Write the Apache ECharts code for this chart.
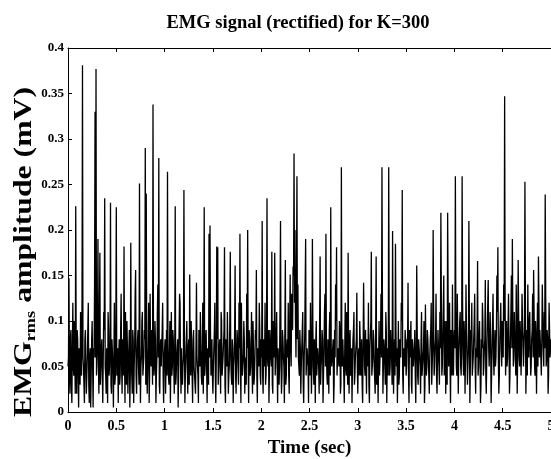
<!DOCTYPE html>
<html>
<head>
<meta charset="utf-8">
<script src="https://cdn.jsdelivr.net/npm/echarts@6/dist/echarts.min.js"></script>
<style>html,body{margin:0;padding:0;background:#fff;}#c{width:551px;height:459px;}</style>
</head>
<body>
<div id="c"></div>
<script>
// Time grid (sec): main samples every 0.01 s from 0 to 5, half-step samples at +0.005 s
var tStart = 0, tStep = 0.01;
// Rectified EMG rms amplitude (mV), main samples, 0.5 s per row
var emg0_05 = [0.05,0.147,0.02,0.09,0.01,0.12,0.04,0.07,0.226,0.02,0.08,0.005,0.06,0.11,0.04,0.381,0.05,0.01,0.09,0.02,0.06,0.12,0.01,0.07,0.04,0.10,0.005,0.06,0.33,0.377,0.04,0.19,0.02,0.175,0.05,0.08,0.01,0.11,0.235,0.04,0.07,0.01,0.09,0.05,0.23,0.02,0.08,0.005,0.12,0.04];
var emg05_1 = [0.225,0.05,0.01,0.08,0.04,0.13,0.02,0.07,0.182,0.01,0.06,0.10,0.02,0.05,0.005,0.186,0.04,0.09,0.01,0.07,0.156,0.02,0.08,0.05,0.251,0.01,0.06,0.11,0.04,0.09,0.29,0.24,0.02,0.07,0.01,0.13,0.05,0.08,0.338,0.04,0.10,0.01,0.06,0.14,0.279,0.02,0.08,0.05,0.12,0.01];
var emg1_15 = [0.06,0.02,0.09,0.264,0.04,0.07,0.01,0.11,0.05,0.08,0.02,0.226,0.04,0.06,0.005,0.09,0.12,0.02,0.07,0.05,0.244,0.01,0.06,0.10,0.02,0.08,0.151,0.04,0.07,0.01,0.09,0.05,0.02,0.142,0.06,0.01,0.08,0.11,0.04,0.07,0.02,0.225,0.05,0.09,0.01,0.06,0.196,0.205,0.04,0.08];
var emg15_2 = [0.02,0.07,0.12,0.01,0.182,0.181,0.05,0.08,0.02,0.10,0.04,0.06,0.181,0.01,0.07,0.11,0.02,0.05,0.176,0.04,0.08,0.01,0.06,0.161,0.02,0.09,0.05,0.12,0.196,0.01,0.07,0.04,0.10,0.02,0.06,0.13,0.20,0.01,0.08,0.05,0.11,0.02,0.07,0.04,0.09,0.156,0.01,0.06,0.12,0.04];
var emg2_25 = [0.08,0.21,0.02,0.07,0.12,0.04,0.235,0.05,0.01,0.09,0.06,0.176,0.02,0.08,0.175,0.04,0.11,0.01,0.07,0.05,0.21,0.02,0.09,0.06,0.01,0.167,0.04,0.08,0.12,0.02,0.151,0.05,0.10,0.16,0.284,0.20,0.06,0.259,0.14,0.05,0.09,0.02,0.07,0.11,0.01,0.08,0.19,0.04,0.06,0.01];
var emg25_3 = [0.07,0.12,0.02,0.19,0.05,0.08,0.01,0.10,0.04,0.06,0.02,0.171,0.05,0.09,0.01,0.07,0.13,0.196,0.04,0.08,0.02,0.11,0.225,0.05,0.07,0.01,0.09,0.14,0.181,0.04,0.06,0.10,0.02,0.269,0.05,0.08,0.01,0.12,0.04,0.07,0.175,0.02,0.09,0.05,0.01,0.08,0.11,0.04,0.06,0.131];
var emg3_35 = [0.02,0.07,0.10,0.04,0.08,0.01,0.142,0.05,0.09,0.02,0.06,0.12,0.01,0.07,0.176,0.04,0.09,0.05,0.02,0.171,0.06,0.01,0.10,0.04,0.13,0.269,0.02,0.08,0.05,0.11,0.01,0.07,0.269,0.04,0.09,0.06,0.199,0.02,0.08,0.185,0.05,0.01,0.10,0.04,0.07,0.12,0.244,0.02,0.06,0.09];
var emg35_4 = [0.04,0.08,0.142,0.01,0.06,0.10,0.02,0.07,0.05,0.09,0.01,0.161,0.04,0.08,0.06,0.02,0.11,0.05,0.07,0.01,0.118,0.04,0.09,0.06,0.02,0.08,0.12,0.05,0.20,0.04,0.07,0.13,0.02,0.09,0.05,0.11,0.219,0.04,0.08,0.15,0.06,0.02,0.10,0.219,0.05,0.12,0.01,0.07,0.14,0.04];
var emg4_45 = [0.09,0.259,0.05,0.13,0.02,0.08,0.11,0.04,0.259,0.06,0.10,0.02,0.14,0.07,0.05,0.21,0.01,0.09,0.12,0.04,0.08,0.13,0.02,0.06,0.166,0.05,0.10,0.01,0.08,0.12,0.04,0.07,0.145,0.02,0.09,0.145,0.05,0.11,0.01,0.07,0.13,0.04,0.09,0.06,0.15,0.181,0.02,0.08,0.12,0.05];
var emg45_5 = [0.09,0.14,0.347,0.04,0.10,0.06,0.13,0.02,0.08,0.15,0.19,0.05,0.11,0.07,0.14,0.02,0.167,0.06,0.10,0.04,0.13,0.08,0.05,0.253,0.02,0.09,0.14,0.06,0.11,0.04,0.08,0.13,0.156,0.05,0.10,0.02,0.12,0.171,0.06,0.09,0.04,0.14,0.07,0.11,0.239,0.05,0.09,0.02,0.12,0.06,0.08];
// Half-step samples (dense dark band), 0.5 s per row
var half0_05 = [0.06,0.04,0.08,0.03,0.07,0.05,0.10,0.02,0.06,0.09,0.04,0.07,0.03,0.05,0.12,0.06,0.03,0.08,0.05,0.04,0.09,0.03,0.06,0.005,0.08,0.05,0.07,0.14,0.06,0.04,0.08,0.05,0.10,0.03,0.07,0.04,0.06,0.09,0.05,0.02,0.06,0.11,0.04,0.07,0.03,0.08,0.05,0.06,0.03,0.09];
var half05_1 = [0.04,0.07,0.06,0.03,0.09,0.05,0.08,0.04,0.06,0.11,0.03,0.07,0.05,0.09,0.04,0.06,0.02,0.08,0.05,0.13,0.04,0.06,0.09,0.03,0.07,0.05,0.10,0.04,0.06,0.08,0.03,0.07,0.05,0.12,0.04,0.06,0.09,0.03,0.07,0.05,0.08,0.04,0.11,0.06,0.03,0.07,0.05,0.09,0.04,0.06];
var half1_15 = [0.08,0.05,0.04,0.07,0.03,0.10,0.06,0.04,0.09,0.05,0.07,0.03,0.06,0.08,0.04,0.13,0.05,0.07,0.03,0.06,0.09,0.04,0.08,0.05,0.07,0.03,0.06,0.10,0.04,0.08,0.05,0.03,0.07,0.06,0.04,0.09,0.05,0.07,0.03,0.12,0.06,0.04,0.08,0.05,0.07,0.03,0.06,0.09,0.05,0.04];
var half15_2 = [0.05,0.09,0.04,0.06,0.08,0.03,0.07,0.05,0.11,0.04,0.06,0.09,0.03,0.08,0.05,0.07,0.04,0.10,0.06,0.03,0.07,0.05,0.09,0.04,0.06,0.08,0.03,0.07,0.05,0.12,0.04,0.06,0.08,0.05,0.03,0.07,0.06,0.09,0.04,0.07,0.05,0.10,0.03,0.06,0.08,0.04,0.07,0.05,0.09,0.03];
var half2_25 = [0.06,0.04,0.08,0.05,0.03,0.07,0.06,0.09,0.04,0.07,0.05,0.03,0.10,0.06,0.04,0.08,0.05,0.07,0.03,0.12,0.06,0.04,0.08,0.05,0.09,0.03,0.07,0.06,0.04,0.10,0.07,0.13,0.09,0.15,0.12,0.10,0.14,0.08,0.06,0.04,0.07,0.05,0.09,0.03,0.06,0.08,0.04,0.07,0.05,0.09];
var half25_3 = [0.04,0.07,0.05,0.09,0.03,0.06,0.08,0.04,0.07,0.05,0.10,0.03,0.06,0.08,0.04,0.11,0.05,0.07,0.03,0.06,0.09,0.04,0.07,0.05,0.08,0.03,0.06,0.10,0.04,0.07,0.05,0.09,0.03,0.06,0.08,0.04,0.07,0.05,0.11,0.03,0.06,0.08,0.04,0.07,0.05,0.09,0.03,0.06,0.08,0.05];
var half3_35 = [0.06,0.04,0.08,0.05,0.03,0.07,0.09,0.04,0.06,0.08,0.05,0.03,0.07,0.10,0.04,0.06,0.08,0.05,0.09,0.03,0.07,0.05,0.04,0.08,0.06,0.12,0.05,0.07,0.03,0.09,0.06,0.04,0.10,0.05,0.07,0.03,0.08,0.06,0.04,0.09,0.07,0.05,0.03,0.08,0.06,0.10,0.04,0.07,0.05,0.08];
var half35_4 = [0.05,0.07,0.04,0.09,0.06,0.03,0.08,0.05,0.07,0.04,0.06,0.09,0.03,0.07,0.05,0.08,0.04,0.06,0.10,0.03,0.07,0.05,0.08,0.04,0.06,0.09,0.03,0.07,0.11,0.05,0.08,0.04,0.06,0.09,0.03,0.07,0.12,0.05,0.08,0.04,0.10,0.06,0.03,0.13,0.07,0.05,0.09,0.04,0.06,0.08];
var half4_45 = [0.07,0.11,0.04,0.08,0.06,0.10,0.05,0.07,0.12,0.04,0.08,0.06,0.09,0.03,0.07,0.11,0.05,0.08,0.04,0.06,0.10,0.05,0.07,0.09,0.04,0.08,0.06,0.03,0.07,0.10,0.05,0.08,0.04,0.06,0.09,0.07,0.05,0.08,0.04,0.10,0.06,0.07,0.05,0.09,0.11,0.06,0.04,0.08,0.07,0.10];
var half45_5 = [0.06,0.10,0.12,0.07,0.05,0.09,0.08,0.04,0.11,0.07,0.10,0.06,0.08,0.04,0.09,0.06,0.11,0.05,0.08,0.07,0.10,0.05,0.09,0.12,0.06,0.04,0.08,0.10,0.07,0.05,0.09,0.06,0.11,0.04,0.08,0.07,0.05,0.12,0.09,0.06,0.08,0.10,0.05,0.07,0.13,0.06,0.08,0.04,0.09,0.07];
var xTicks = [0,0.5,1,1.5,2,2.5,3,3.5,4,4.5,5];
var yTicks = [0,0.05,0.1,0.15,0.2,0.25,0.3,0.35,0.4];

var mainVals = [].concat(emg0_05,emg05_1,emg1_15,emg15_2,emg2_25,emg25_3,emg3_35,emg35_4,emg4_45,emg45_5);
var halfVals = [].concat(half0_05,half05_1,half1_15,half15_2,half2_25,half25_3,half3_35,half35_4,half4_45,half45_5);
var data = [];
for (var i = 0; i < mainVals.length; i++) {
  data.push([+(tStart + i*tStep).toFixed(3), mainVals[i]]);
  if (i < halfVals.length) data.push([+(tStart + i*tStep + tStep/2).toFixed(3), halfVals[i]]);
}

var font = 'Liberation Serif';
var chart = echarts.init(document.getElementById('c'), null, {renderer:'canvas'});
chart.setOption({
  animation:false,
  backgroundColor:'#fff',
  title:{text:'EMG signal (rectified) for K=300', left:293, top:9, textAlign:'center',
    textStyle:{fontFamily:font, fontWeight:'bold', fontSize:18.5, color:'#000'}},
  grid:{left:68, right:0, top:48, bottom:47, outerBoundsMode:'none'},
  xAxis:[{
    type:'value', min:xTicks[0], max:xTicks[xTicks.length-1], interval:0.5,
    axisLine:{lineStyle:{color:'#000', width:1}},
    axisTick:{inside:true, length:4, lineStyle:{color:'#000'}},
    axisLabel:{margin:7, color:'#000', fontFamily:font, fontWeight:'bold', fontSize:14, hideOverlap:false},
    splitLine:{show:false},
    name:'Time (sec)', nameLocation:'middle', nameGap:27,
    nameTextStyle:{fontFamily:font, fontWeight:'bold', fontSize:19, color:'#000'}
  },{
    type:'value', position:'top', min:xTicks[0], max:xTicks[xTicks.length-1], interval:0.5,
    axisLine:{lineStyle:{color:'#000', width:1}},
    axisTick:{inside:true, length:4, lineStyle:{color:'#000'}},
    axisLabel:{show:false}, splitLine:{show:false}
  }],
  yAxis:{
    type:'value', min:yTicks[0], max:yTicks[yTicks.length-1], interval:0.05,
    axisLine:{show:true, lineStyle:{color:'#000', width:1}},
    axisTick:{show:true, inside:true, length:4, lineStyle:{color:'#000'}},
    axisLabel:{margin:4, color:'#000', fontFamily:font, fontWeight:'bold', fontSize:13},
    splitLine:{show:false}
  },
  graphic:[{
    type:'text', x:24, y:252, rotation:Math.PI/2, scaleX:1.22, scaleY:1,
    style:{
      text:'{a|EMG}{s|rms}{a| amplitude (mV)}',
      align:'center', verticalAlign:'middle',
      rich:{
        a:{fontFamily:font, fontWeight:'bold', fontSize:26, fill:'#000'},
        s:{fontFamily:font, fontWeight:'bold', fontSize:15, fill:'#000', padding:[14,0,0,0]}
      }
    }
  }],
  series:[{
    type:'line', data:data, showSymbol:false, symbol:'none',
    lineStyle:{color:'#000', width:1.3}, xAxisIndex:0
  }]
});
</script>
</body>
</html>
